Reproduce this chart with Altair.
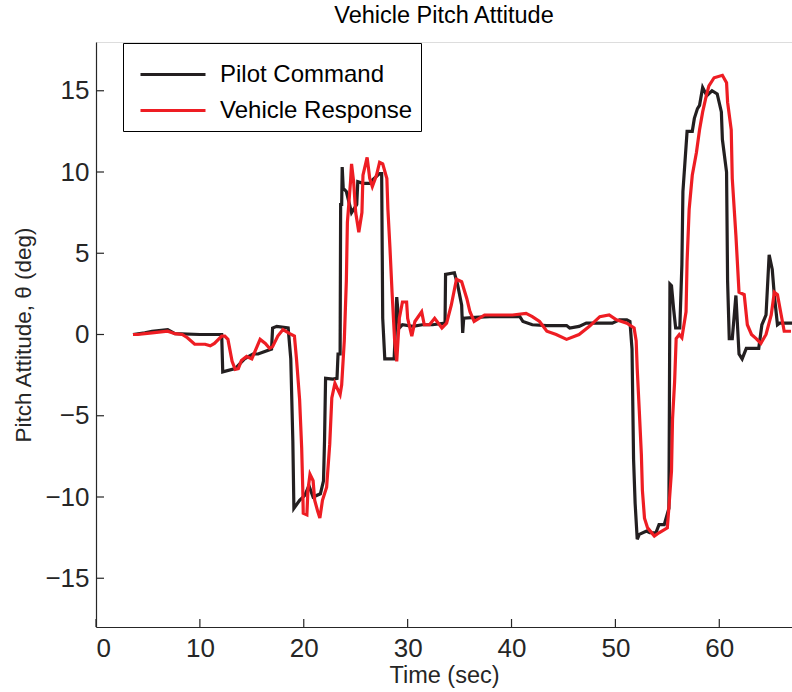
import altair as alt
import pandas as pd

# Pilot Command (black)
cmd_t = [3.56, 4.7, 5.4, 6.9, 7.6, 10.0, 12.1, 12.2, 13.4, 14.3, 15.1, 15.6, 16.9, 17.0, 17.4, 18.5,
         18.75, 18.95, 19.05, 19.6, 20.1, 20.5, 20.9, 21.6, 21.9, 22.0, 22.1, 22.8, 23.2, 23.3, 23.5,
         23.55, 23.65, 23.7, 23.8, 24.1, 24.6, 25.1, 25.2, 25.7, 26.4, 26.6, 27.3, 27.5, 27.6, 27.8,
         28.4, 28.7, 28.95, 29.2, 29.5, 30.5, 31.4, 32.4, 33.6, 33.65, 34.5, 34.8, 35.2, 35.3, 35.4,
         36.5, 37.9, 40.8, 41.1, 42.0, 43.4, 45.3, 45.6, 46.5, 47.2, 49.7, 50.4, 51.1, 51.4, 51.6,
         51.75, 51.9, 52.1, 52.3, 53.0, 53.3, 53.9, 54.2, 54.7, 55.15, 55.2, 55.25, 55.4, 55.6, 55.8,
         56.2, 56.4, 56.5, 56.9, 57.4, 57.6, 57.9, 58.1, 58.4, 58.8, 59.3, 59.8, 60.2, 60.3, 60.7,
         60.8, 60.96, 61.25, 61.6, 61.9, 62.2, 62.6, 63.8, 64.1, 64.5, 64.8, 65.1, 65.3, 65.6, 65.8, 67.0]
cmd_v = [0.0, 0.1, 0.2, 0.3, 0.05, 0.0, 0.0, -2.3, -2.1, -1.5, -1.2, -1.2, -0.9, 0.4, 0.5, 0.4,
         -1.5, -6.6, -10.7, -10.2, -9.9, -9.3, -10.0, -9.8, -9.0, -6.5, -2.7, -2.75, -2.7, -1.2, -1.2,
         8.0, 8.0, 10.3, 9.0, 8.8, 7.5, 8.0, 9.4, 9.3, 9.3, 9.5, 9.9, 9.9, 1.0, -1.5,
         -1.5, -1.5, 2.3, 0.4, 0.6, 0.5, 0.6, 0.6, 0.7, 3.7, 3.8, 3.1, 1.8, 0.1, 1.0,
         1.05, 1.1, 1.1, 0.8, 0.6, 0.55, 0.55, 0.4, 0.5, 0.7, 0.7, 0.9, 0.9, 0.8, -0.9,
         -7.7, -10.4, -12.6, -12.3, -12.1, -12.2, -12.2, -11.7, -11.7, -10.7, -4.1, 3.1, 3.0, 1.6, 0.4,
         0.4, 4.3, 8.8, 12.5, 12.5, 13.3, 13.9, 14.1, 15.2, 14.7, 15.0, 14.8, 13.7, 12.0, 10.0,
         3.3, -0.25, -0.25, 2.4, -1.2, -1.5, -0.85, -0.85, 0.6, 1.2, 4.9, 4.0, 2.4, 0.6, 0.7, 0.7]

# Vehicle Response (red)
rsp_t = [3.56, 4.0, 4.7, 5.4, 6.9, 7.6, 8.3, 8.8, 9.5, 10.5, 11.0, 11.4, 12.1, 12.4, 12.7, 13.1,
         13.4, 13.7, 14.0, 14.5, 15.0, 15.5, 15.8, 16.3, 16.7, 17.0, 17.5, 18.0, 18.65, 19.1, 19.3,
         19.6, 19.8, 19.9, 19.95, 20.3, 20.4, 20.6, 20.9, 21.05, 21.35, 21.55, 21.8, 22.2, 22.5, 22.7,
         23.0, 23.5, 23.65, 23.9, 24.1, 24.2, 24.5, 24.6, 24.8, 25.0, 25.3, 25.6, 25.7, 26.1, 26.35,
         26.6, 27.0, 27.3, 27.6, 28.0, 28.1, 28.3, 28.5, 28.75, 28.95, 29.2, 29.5, 29.9, 30.0, 30.4,
         30.7, 31.35, 31.6, 32.1, 32.6, 33.3, 33.75, 34.2, 34.7, 35.2, 35.7, 36.0, 36.4, 36.9, 37.4,
         38.6, 40.1, 41.4, 42.0, 42.7, 43.4, 44.3, 45.3, 46.5, 47.5, 48.5, 49.4, 50.1, 51.1, 51.8,
         52.0, 52.1, 52.3, 52.5, 52.6, 52.8, 53.1, 53.75, 54.2, 55.0, 55.2, 55.4, 55.5, 55.7, 55.85,
         56.15, 56.4, 56.8, 56.9, 57.1, 57.4, 57.8, 58.1, 58.4, 58.75, 59.0, 59.5, 60.3, 60.7, 60.8,
         61.15, 61.25, 61.6, 61.9, 62.4, 62.7, 63.1, 63.55, 64.0, 64.5, 65.0, 65.3, 65.6, 65.96, 66.25, 66.9]
rsp_v = [0.0, 0.0, 0.05, 0.1, 0.2, 0.05, 0.0, -0.2, -0.6, -0.6, -0.7, -0.55, -0.1, -0.1, -0.3, -1.65,
         -2.15, -2.1, -1.6, -1.35, -1.5, -0.75, -0.3, -0.55, -0.85, -0.75, -0.1, 0.3, 0.05, -0.1, -1.5,
         -4.0, -7.0, -9.4, -11.0, -11.1, -9.6, -8.6, -9.0, -10.2, -10.9, -11.3, -10.2, -9.4, -6.75, -3.9,
         -3.0, -3.7, -3.1, -0.4, 3.3, 6.9, 9.4, 10.5, 9.4, 7.5, 6.3, 7.5, 9.8, 10.9, 9.6,
         9.1, 9.8, 10.6, 10.5, 9.6, 7.7, 5.3, 2.6, -0.4, -1.65, 1.0, 2.0, 2.0, 1.0, -0.1,
         0.8, 1.4, 0.6, 0.6, 1.0, 0.4, 0.7, 1.8, 3.4, 3.25, 2.2, 1.4, 0.8, 1.0, 1.2,
         1.2, 1.2, 1.3, 1.1, 0.8, 0.2, 0.0, -0.3, 0.0, 0.5, 1.1, 1.2, 0.9, 0.7, 0.4,
         -0.4, -2.1, -4.7, -7.4, -9.6, -11.3, -11.9, -12.4, -12.2, -11.9, -10.2, -8.4, -5.2, -2.9, -0.25,
         0.0, -0.2, 1.4, 4.5, 7.7, 9.8, 11.2, 12.6, 13.7, 14.7, 15.3, 15.8, 15.95, 15.5, 14.3,
         12.6, 9.6, 6.1, 2.6, 2.45, 0.6, 0.0, -0.25, -0.55, 0.0, 1.2, 2.6, 2.45, 1.2, 0.2, 0.2]

series_names = ["Pilot Command", "Vehicle Response"]
series_colors = ["#231f20", "#ee1d23"]
x_ticks = [0, 10, 20, 30, 40, 50, 60]
y_ticks = [-15, -10, -5, 0, 5, 10, 15]

df = pd.concat([
    pd.DataFrame({"t": cmd_t, "v": cmd_v, "series": series_names[0], "order": range(len(cmd_t))}),
    pd.DataFrame({"t": rsp_t, "v": rsp_v, "series": series_names[1], "order": range(len(rsp_t))}),
])

W, H = 696, 585
FONT = "Liberation Sans"
xscale = alt.Scale(domain=[0, 67], nice=False, zero=False)
yscale = alt.Scale(domain=[-18, 18], nice=False, zero=False)

axis_common = dict(ticks=False, grid=False, domainColor="#262626", domainWidth=1.2,
                   labelFont=FONT, labelFontSize=26, labelColor="#262626",
                   titleFont=FONT, titleFontWeight="normal", titleColor="#262626")

lines = alt.Chart(df).mark_line(strokeWidth=3.2, clip=True, interpolate="linear").encode(
    x=alt.X("t:Q", scale=xscale, axis=alt.Axis(values=x_ticks, title="Time (sec)", titleFontSize=23.5,
                                                labelPadding=8, titlePadding=2, **axis_common)),
    y=alt.Y("v:Q", scale=yscale, axis=alt.Axis(values=y_ticks, title="Pitch Attitude, θ (deg)",
                                                titleFontSize=22.5,
                                                labelPadding=7, titlePadding=9, **axis_common)),
    color=alt.Color("series:N", scale=alt.Scale(domain=series_names, range=series_colors),
                    legend=alt.Legend(title=None, orient="none", legendX=27, legendY=1,
                                      direction="vertical", symbolType="M-1.5116,0H1.5116",
                                      symbolSize=1849, symbolStrokeWidth=3.2,
                                      labelFont=FONT, labelFontSize=24,
                                      labelColor="#000000", labelOffset=23.5, rowPadding=0,
                                      labelLimit=0, padding=8, symbolOffset=18.5,
                                      strokeColor="#000000", fillColor="#ffffff")),
    order="order:Q",
)

yt = alt.Chart(pd.DataFrame({"v": y_ticks})).mark_rule(color="#262626", strokeWidth=1.2).encode(
    y=alt.Y("v:Q", scale=yscale), x=alt.value(0), x2=alt.value(8))
xt = alt.Chart(pd.DataFrame({"t": x_ticks})).mark_rule(color="#262626", strokeWidth=1.2).encode(
    x=alt.X("t:Q", scale=xscale), y=alt.value(H), y2=alt.value(H - 8))

chart = alt.layer(yt, xt, lines).properties(
    width=W, height=H,
    title=alt.TitleParams("Vehicle Pitch Attitude", font=FONT, fontSize=23.5, fontWeight="normal",
                          color="#000000", anchor="middle", offset=15),
    padding={"left": 96, "top": 42, "right": 0, "bottom": 65},
    autosize=alt.AutoSizeParams(type="none"),
).configure_view(stroke=None).configure(background="white")

chart.save("out.html", embed_options={"renderer": "svg", "actions": False})
